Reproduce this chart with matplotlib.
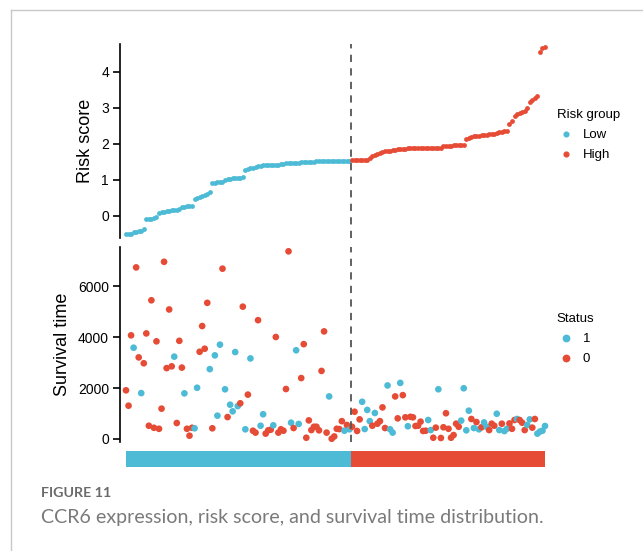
import matplotlib.pyplot as plt
from matplotlib.lines import Line2D
import numpy as np

plt.rcParams['font.family'] = ['Liberation Sans', 'DejaVu Sans']

# risk score per patient, sorted ascending (low risk group, then high risk group)
risk_low = [-0.52, -0.52, -0.50,
            -0.46, -0.45, -0.44, -0.43, -0.37,
            -0.10, -0.09, -0.08, -0.06, -0.03,
            0.08, 0.10, 0.11, 0.13, 0.14, 0.15, 0.15, 0.17, 0.19,
            0.24, 0.25, 0.26, 0.27, 0.28,
            0.47, 0.50, 0.52, 0.55, 0.58, 0.61, 0.65,
            0.92, 0.92, 0.93, 0.93, 0.94,
            1.00, 1.02, 1.03, 1.04, 1.04, 1.05, 1.05, 1.07,
            1.28, 1.30, 1.31, 1.33, 1.35,
            1.37, 1.39, 1.41, 1.42, 1.42,
            1.42, 1.42, 1.42, 1.42, 1.43, 1.43,
            1.45, 1.45, 1.46, 1.46, 1.47, 1.47, 1.48, 1.48,
            1.49, 1.50, 1.50, 1.50, 1.51, 1.51, 1.51, 1.51, 1.51, 1.51,
            1.52, 1.52, 1.52, 1.52, 1.52, 1.52, 1.52, 1.52]
risk_high = [1.54, 1.54, 1.55, 1.55, 1.55, 1.55, 1.56,
             1.60, 1.65, 1.69, 1.72, 1.75, 1.77, 1.79,
             1.80, 1.81, 1.82, 1.83, 1.84, 1.85, 1.86, 1.86,
             1.87, 1.87, 1.87, 1.87, 1.87, 1.87, 1.88, 1.88, 1.88, 1.88, 1.88, 1.88, 1.88, 1.88,
             1.93, 1.93, 1.94, 1.94, 1.95, 1.95, 1.95, 1.96, 1.96,
             2.12, 2.17, 2.19, 2.20, 2.21, 2.22, 2.23, 2.24, 2.25, 2.26, 2.27, 2.28, 2.30, 2.32,
             2.33, 2.35, 2.36,
             2.55, 2.62, 2.78, 2.82, 2.84, 2.87, 2.90, 3.00, 3.16, 3.20, 3.28, 3.33,
             4.56, 4.66, 4.68]

# survival time, same patient order
time_low = [1909, 1306, 4065, 3580, 6730, 3200, 1800, 2970, 4140, 520,
            5440, 440, 3830, 400, 1190, 6950, 2780, 5080, 2850, 3230,
            627, 3850, 2800, 1790, 400, 130, 440, 420, 2010, 3420,
            4430, 3540, 5340, 2740, 420, 3280, 915, 3700, 6680, 1950,
            860, 1345, 1085, 3410, 1290, 1400, 5190, 380, 1740, 3160,
            325, 250, 4660, 520, 970, 210, 340, 365, 537, 4000,
            250, 380, 325, 1960, 7360, 640, 430, 3480, 590, 2390,
            3720, 50, 730, 350, 480, 480, 340, 2670, 4220, 250,
            1670, 10, 100, 400, 390, 700, 325, 550, 380]
status_low = [0, 0, 0, 1, 0, 0, 1, 0, 0, 0,
              0, 0, 0, 0, 0, 0, 0, 0, 0, 1,
              0, 0, 0, 1, 0, 0, 0, 1, 1, 0,
              0, 0, 0, 1, 0, 1, 1, 1, 0, 1,
              0, 1, 1, 1, 1, 0, 0, 1, 0, 1,
              0, 0, 0, 1, 1, 0, 0, 0, 1, 0,
              0, 0, 0, 0, 0, 1, 0, 1, 1, 0,
              0, 0, 0, 0, 0, 0, 0, 0, 0, 0,
              1, 0, 0, 0, 0, 0, 1, 0, 1]
time_high = [480, 1070, 315, 770, 1460, 390, 1140, 700, 520, 1020,
             600, 700, 1240, 430, 2100, 380, 250, 1670, 810, 2200,
             1720, 850, 500, 870, 850, 510, 520, 680, 315, 325,
             745, 350, 50, 445, 1950, 40, 460, 1010, 400, 50,
             155, 600, 480, 720, 1990, 340, 1110, 785, 430, 665,
             380, 460, 650, 480, 350, 600, 520, 990, 350, 600,
             310, 400, 610, 400, 745, 785, 745, 640, 350, 550,
             770, 445, 785, 210, 290, 325, 510]
status_high = [0, 0, 0, 0, 1, 1, 1, 1, 0, 1,
               0, 0, 0, 0, 1, 1, 1, 0, 0, 1,
               0, 0, 1, 0, 0, 0, 0, 0, 0, 0,
               1, 1, 0, 0, 1, 0, 0, 0, 0, 0,
               0, 0, 0, 1, 1, 1, 1, 0, 1, 0,
               1, 0, 1, 1, 0, 0, 0, 1, 1, 0,
               1, 1, 0, 0, 0, 1, 0, 0, 0, 1,
               1, 0, 0, 1, 1, 1, 1]

groups = ['Low', 'High']
status_names = ['1', '0']
blue = '#4DBBD5'
red = '#E64B35'

n_low = len(risk_low)
n_high = len(risk_high)
n = n_low + n_high
idx = np.arange(n)
risk = np.array(risk_low + risk_high)
time = np.array(time_low + time_high)
status = np.array(status_low + status_high)
cut = n_low - 0.5

W, H = 643, 551


def box(l, t, r, b):
    return [l / W, 1 - b / H, (r - l) / W, (b - t) / H]


fig = plt.figure(figsize=(W / 100, H / 100), dpi=100)

# card border like the journal page
fig.add_artist(Line2D([11 / W, 11 / W], [0, 1 - 10 / H], color='#c8c8c8', lw=1))
fig.add_artist(Line2D([11 / W, 1], [1 - 10 / H, 1 - 10 / H], color='#c8c8c8', lw=1))

ax1 = fig.add_axes(box(120, 44, 551, 238.3))
ax2 = fig.add_axes(box(120, 247.3, 551, 441.7))
ax3 = fig.add_axes(box(120, 451, 551, 467))

xlim = (-2.36, n - 1 + 2.36)

# risk score
ax1.scatter(idx[:n_low], risk[:n_low], s=12, color=blue, linewidths=0)
ax1.scatter(idx[n_low:], risk[n_low:], s=12, color=red, linewidths=0)
ax1.axvline(cut, color='#555555', lw=1.3, ls=(0, (4, 3.5)))
ax1.set_xlim(xlim)
ax1.set_ylim(-0.63, 4.77)
ax1.set_yticks([0, 1, 2, 3, 4])
ax1.set_ylabel('Risk score', fontsize=13, labelpad=5)

# survival time
cols = np.where(status == 1, blue, red)
ax2.scatter(idx, time, s=23, c=cols, linewidths=0)
ax2.axvline(cut, color='#555555', lw=1.3, ls=(0, (4, 3.5)))
ax2.set_xlim(xlim)
ax2.set_ylim(-106, 7518)
ax2.set_yticks([0, 2000, 4000, 6000])
ax2.set_ylabel('Survival time', fontsize=13, labelpad=5)

for ax in (ax1, ax2):
    for s in ('top', 'right', 'bottom'):
        ax.spines[s].set_visible(False)
    ax.spines['left'].set_linewidth(1.2)
    ax.set_xticks([])
    ax.tick_params(axis='y', labelsize=10, length=5, width=1.2, pad=3, colors='black')
    ax.patch.set_alpha(0)

# group bar
ax3.barh(0, n_low - 0.5, left=0, height=1, color=blue)
ax3.barh(0, n_high - 0.5, left=cut, height=1, color=red)
ax3.set_xlim(xlim)
ax3.set_ylim(-0.5, 0.5)
ax3.axis('off')

# legends
h1 = [Line2D([], [], ls='', marker='o', ms=3.4, color=c) for c in (blue, red)]
ax1.legend(h1, groups, title='Risk group', loc='upper left',
           bbox_to_anchor=(556.7 / W, 1 - 109 / H), bbox_transform=fig.transFigure,
           frameon=False, fontsize=9.5, title_fontsize=9.5, alignment='left',
           handlelength=1.38, handletextpad=0.6, labelspacing=0.6,
           borderpad=0, borderaxespad=0)
h2 = [Line2D([], [], ls='', marker='o', ms=4.6, color=c) for c in (blue, red)]
ax2.legend(h2, status_names, title='Status', loc='upper left',
           bbox_to_anchor=(556.7 / W, 1 - 313 / H), bbox_transform=fig.transFigure,
           frameon=False, fontsize=9.5, title_fontsize=9.5, alignment='left',
           handlelength=1.38, handletextpad=0.6, labelspacing=0.6,
           borderpad=0, borderaxespad=0)

# caption
fig.text(41 / W, 1 - 493 / H, 'FIGURE 11', fontsize=10.3, fontweight='bold',
         color='#6a6a6a', family=['Lato', 'DejaVu Sans'], va='center')
fig.text(41 / W, 1 - 518 / H, 'CCR6 expression, risk score, and survival time distribution.',
         fontsize=14.1, color='#7a7a7a', family=['Lato', 'DejaVu Sans'], va='center')

fig.savefig('out.png', dpi=100)
